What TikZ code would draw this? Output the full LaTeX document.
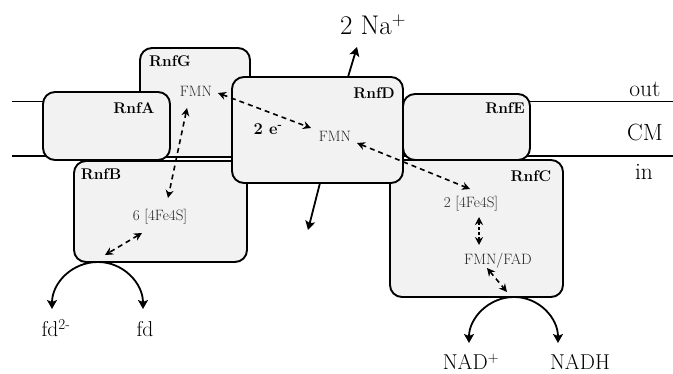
\documentclass[tikz,border=0pt]{standalone}
\usepackage{fontspec}
\usetikzlibrary{arrows.meta}
\definecolor{boxfill}{HTML}{F2F2F2}
\definecolor{cofcol}{HTML}{262626}
\tikzset{
  prot/.style={draw=black, line width=1.9pt, fill=boxfill, rounded corners=12pt, anchor=north west, inner sep=0pt, outer sep=0pt},
  memb/.style={line width=1.7pt},
  lab/.style={font=\fontsize{15.5}{17}\selectfont\bfseries, inner sep=0pt, anchor=base},
  cof/.style={font=\fontsize{15}{17}\selectfont, text=cofcol, inner sep=0pt, anchor=base},
  big/.style={font=\fontsize{27}{29}\selectfont, inner sep=0pt, anchor=base},
  mid/.style={font=\fontsize{23.5}{25}\selectfont, inner sep=0pt, anchor=base},
  sub/.style={font=\fontsize{21.5}{23}\selectfont, inner sep=0pt, anchor=base},
  etr/.style={line width=1.6pt, dash pattern=on 5pt off 4pt, {Stealth[length=8pt,width=8pt]}-{Stealth[length=8pt,width=8pt]}},
  flow/.style={line width=1.8pt, -{Stealth[length=9pt,width=10pt,inset=2pt]}}
}
\begin{document}
\begin{tikzpicture}[x=1pt,y=-1pt]
\useasboundingbox (0,0) rectangle (673,374);
% membrane
\coordinate (mTL) at (12,101.5);
\coordinate (mTR) at (673,101.5);
\coordinate (mBL) at (12,156);
\coordinate (mBR) at (673,156);
\draw[memb] (mTL) -- (mTR);
\draw[memb] (mBL) -- (mBR);
% proteins
\node[prot, minimum width=110pt, minimum height=109pt] (G) at (140,48) {};
\node[prot, minimum width=127pt, minimum height=68pt] (A) at (43,92) {};
\node[prot, minimum width=173pt, minimum height=101pt] (B) at (74,161) {};
\node[prot, minimum width=127pt, minimum height=66pt] (E) at (403,94) {};
\node[prot, minimum width=173pt, minimum height=137pt] (C) at (390,160) {};
\node[prot, minimum width=171pt, minimum height=106pt] (D) at (232,77) {};
% labels
\node[lab] (Glab) at (170,67) {RnfG};
\node[lab] (Alab) at (134,114) {RnfA};
\node[lab] (Blab) at (101,180) {RnfB};
\node[lab] (Dlab) at (374,99) {RnfD};
\node[lab] (Elab) at (505,114) {RnfE};
\node[lab] (Clab) at (531,182) {RnfC};
\node[lab, font=\fontsize{16.5}{18}\selectfont\bfseries] (elec) at (268,135) {2 e\textsuperscript{-}};
% cofactors
\node[cof] (fmnG) at (196,97) {FMN};
\node[cof] (fesB) at (160,221) {6 [4Fe4S]};
\node[cof] (fmnD) at (335,142) {FMN};
\node[cof] (fesC) at (471,208) {2 [4Fe4S]};
\node[cof] (fad) at (498,265) {FMN/FAD};
% side labels
\node[mid] (out) at (645,97) {out};
\node[mid] (cm) at (645,141) {CM};
\node[mid] (in) at (644,180) {in};
% substrates
\node[big] (na) at (373,35) {2 Na\textsuperscript{+}};
\node[sub] (fdr) at (56,337) {fd\textsuperscript{2-}};
\node[sub] (fd) at (145,337) {fd};
\node[sub] (nad) at (471,370) {NAD\textsuperscript{+}};
\node[sub] (nadh) at (580,370) {NADH};
% electron transfer paths
\coordinate (t1a) at (218,93);  \coordinate (t1b) at (311,128);
\coordinate (t2a) at (357,143); \coordinate (t2b) at (470,189);
\coordinate (t3a) at (187,108); \coordinate (t3b) at (168,198);
\coordinate (t4a) at (142,233); \coordinate (t4b) at (105,255);
\coordinate (t5a) at (479,217); \coordinate (t5b) at (479,245);
\coordinate (t6a) at (487,268); \coordinate (t6b) at (507,292);
\draw[etr] (t1a) -- (t1b);
\draw[etr] (t2a) -- (t2b);
\draw[etr] (t3a) -- (t3b);
\draw[etr] (t4a) -- (t4b);
\draw[etr, dash pattern=on 3pt off 2pt] (t5a) -- (t5b);
\draw[etr] (t6a) -- (t6b);
% Na+ flow
\coordinate (naS) at (348,77);  \coordinate (naE) at (357,47);
\coordinate (dnS) at (320,183); \coordinate (dnE) at (308,230);
\draw[flow] (naS) -- (naE);
\draw[flow] (dnS) -- (dnE);
% ferredoxin arcs
\coordinate (fdT) at (98,262);
\coordinate (fdL) at (52,309);
\coordinate (fdR) at (143,309);
\draw[flow] (fdT) .. controls (72,262) and (52,283) .. (fdL);
\draw[flow] (fdT) .. controls (123,262) and (143,283) .. (fdR);
% NAD arcs
\coordinate (nT) at (514,297);
\coordinate (nL) at (469,343);
\coordinate (nR) at (558,343);
\draw[flow] (nT) .. controls (489,297) and (469,318) .. (nL);
\draw[flow] (nT) .. controls (539,297) and (558,318) .. (nR);
\end{tikzpicture}
\end{document}
